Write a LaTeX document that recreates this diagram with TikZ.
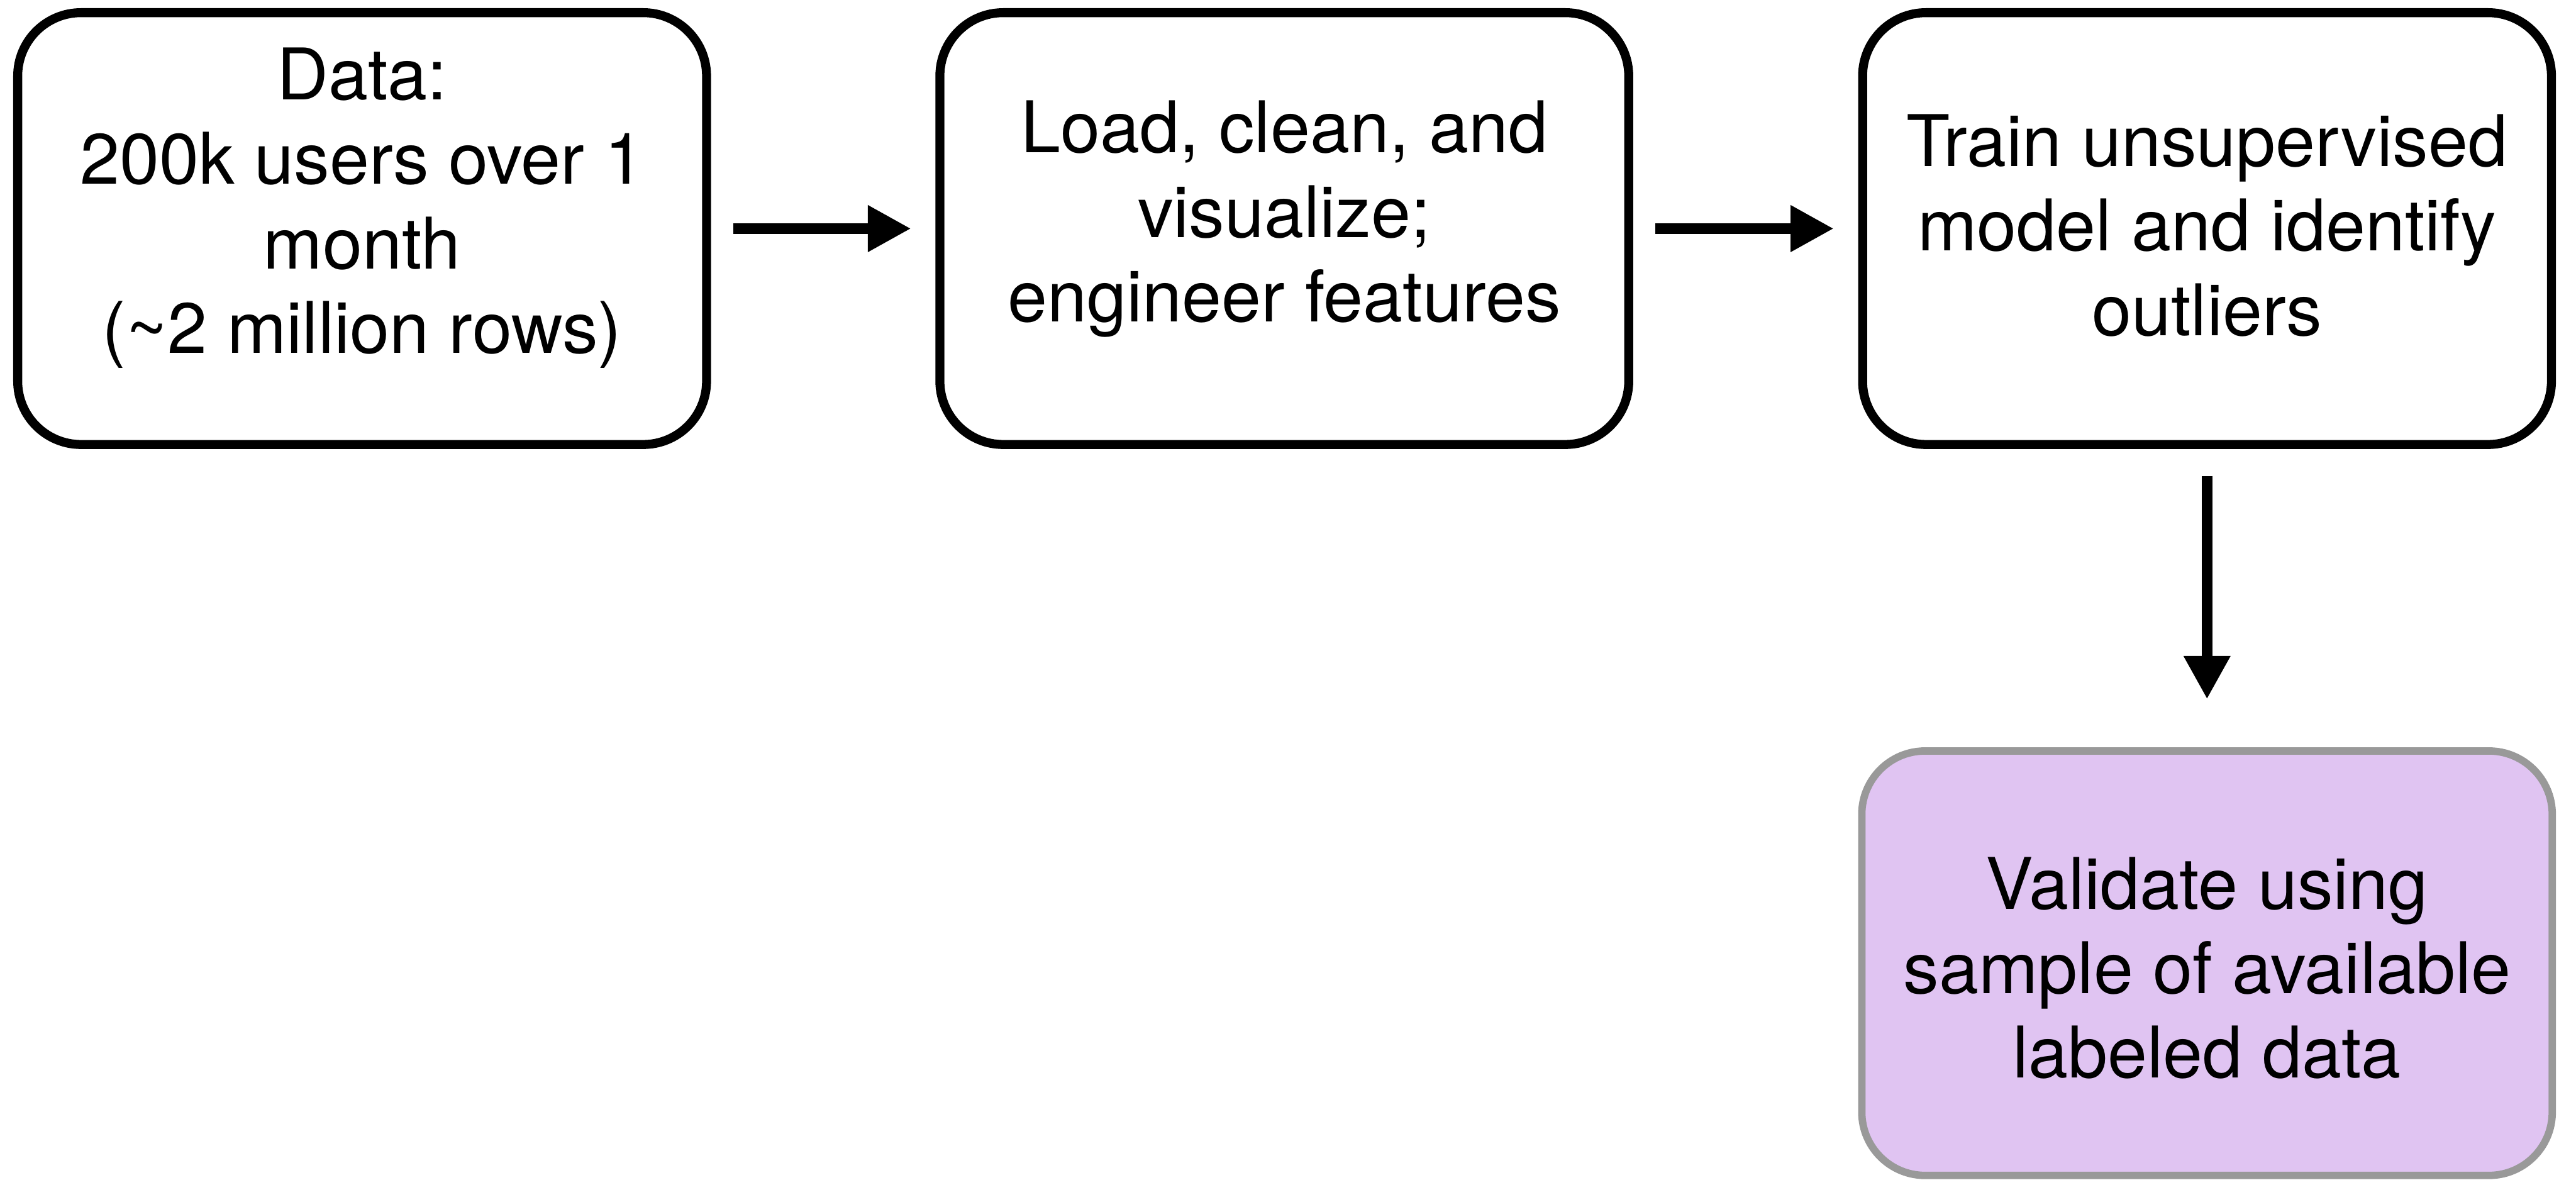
\documentclass[tikz,border=0pt]{standalone}
\usepackage{fontspec}
\setmainfont{TeX Gyre Heros}
\usetikzlibrary{positioning,arrows.meta}
\definecolor{lilac}{HTML}{E0C4F2}
\definecolor{rimgray}{HTML}{999999}

\begin{document}
\begin{tikzpicture}[
  stage/.style={draw,rounded corners=12pt,line width=1.7pt,minimum width=130.5pt,minimum height=81.8pt},
  check/.style={stage,fill=lilac,draw=rimgray,line width=1.4pt,minimum width=130.8pt,minimum height=80.4pt},
  txt/.style={align=center,inner sep=0pt,font=\fontsize{13.5pt}{16pt}\selectfont},
  flow/.style={line width=2.1pt,-{Triangle[length=8.2pt,width=8.3pt]}}]
\useasboundingbox (0,0) rectangle (488pt,-224.4pt);
\node[stage] (data) at (68.6pt,-43.3pt) {};
\node[stage,right=42.5pt of data] (prep) {};
\node[stage,right=42.6pt of prep] (model) {};
\node[check,below=56.5pt of model] (valid) {};
% box texts, nudged like the original
\node[txt] (datatext) at ([yshift=3.9pt]data.center) {Data:\\200k users over 1\\month\\(\textasciitilde2 million rows)};
\node[txt] (preptext) at ([yshift=1.8pt]prep.center) {Load, clean, and\\visualize;\\engineer features};
\node[txt] (modeltext) at ([yshift=0.6pt]model.center) {Train unsupervised\\model and identify\\outliers};
\node[txt] (validtext) at ([yshift=-0.9pt]valid.center) {Validate using\\sample of available\\labeled data};
\draw[flow,shorten <=4.2pt,shorten >=4.6pt] (data) -- (prep);
\draw[flow,shorten <=4.2pt,shorten >=4.6pt] (prep) -- (model);
\draw[flow,shorten <=5.1pt,shorten >=9.1pt] (model) -- (valid);
\end{tikzpicture}
\end{document}
